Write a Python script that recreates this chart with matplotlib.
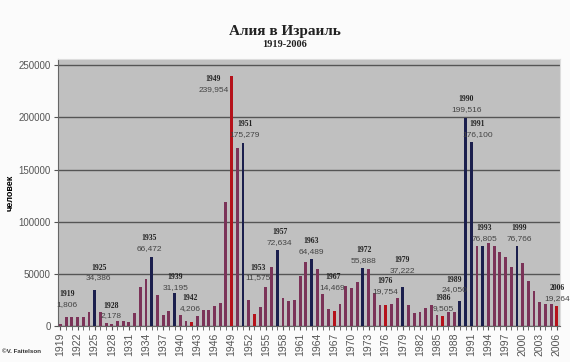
import matplotlib
matplotlib.use("Agg")
import matplotlib.pyplot as plt
import numpy as np

# aliyah to Israel per year, 1919-2006
years = list(range(1919, 2007))
immigrants = [
    1806, 8223, 8294, 8685, 8175, 13892, 34386, 13855, 3034, 2178,
    5249, 4944, 4075, 12553, 37337, 45267, 66472, 29595, 10629, 14675,
    31195, 10643, 4592, 4206, 10063, 15552, 15259, 18760, 22098, 118993,
    239954, 170563, 175279, 24610, 11575, 18491, 37528, 56330, 72634, 27290,
    23988, 24692, 47735, 61533, 64489, 55036, 31115, 15957, 14469, 20703,
    38111, 36750, 41930, 55888, 54886, 31979, 20028, 19754, 21429, 26394,
    37222, 20428, 12599, 13723, 16906, 19981, 10642, 9505, 12965, 13034,
    24050, 199516, 176100, 77057, 76805, 79844, 76361, 70919, 66221, 56730,
    76766, 60192, 43580, 33565, 23268, 20899, 21183, 19264,
]
labelled_years = [1919, 1925, 1928, 1935, 1939, 1942, 1949, 1951, 1953, 1957, 1963,
                  1967, 1972, 1976, 1979, 1986, 1989, 1990, 1991, 1993, 1999, 2006]

# styling groups
peak_years = {1925, 1935, 1939, 1951, 1957, 1963, 1972, 1979, 1989, 1990, 1991, 1993, 1999}
low_years = {1942, 1949, 1953, 1967, 1976, 1986, 2006}
# where each label sits (x in years, y in people), placed like the hand-moved Excel labels
label_pos = {
    1919: (1920.2, 30600), 1925: (1925.7, 55600), 1928: (1927.8, 19200),
    1935: (1934.6, 84300), 1939: (1939.1, 46900), 1942: (1941.8, 26800),
    1949: (1945.8, 236600), 1951: (1951.3, 193500), 1953: (1953.7, 55600),
    1957: (1957.4, 90000), 1963: (1963.0, 81400), 1967: (1966.7, 46900),
    1972: (1972.2, 72800), 1976: (1975.9, 43100), 1979: (1978.9, 63200),
    1986: (1986.1, 26800), 1989: (1988.0, 44100), 1990: (1990.1, 217500),
    1991: (1992.1, 193500), 1993: (1993.3, 93900), 1999: (1999.4, 93900),
    2006: (2006.0, 36400),
}

colors = []
for y in years:
    if y in peak_years:
        colors.append("#1b1f4d")
    elif y in low_years:
        colors.append("#b5121b")
    else:
        colors.append("#7b3358")

fig = plt.figure(figsize=(5.7, 3.62), dpi=100, facecolor="#fbfbfb")
ax = fig.add_axes([0.101, 0.0994, 0.881, 0.7376])
ax.set_facecolor("#c0c0c0")

ax.bar(years, immigrants, width=0.5, color=colors, zorder=3)

ax.set_xlim(1918.5, 2006.5)
ax.set_ylim(0, 256000)
ax.set_yticks(np.arange(0, 250001, 50000))
ax.set_yticklabels([str(v) for v in range(0, 250001, 50000)],
                   fontsize=7, color="#555555", family="Liberation Sans")
ax.yaxis.grid(True, color="#555555", lw=1, zorder=1)
ax.set_xticks(years[::3])
ax.set_xticklabels([str(y) for y in years[::3]], rotation=90,
                   fontsize=7.5, color="#555555", family="Liberation Sans")
ax.set_xticks(years, minor=True)
ax.tick_params(axis="x", which="both", length=3, color="#555555", pad=2)
ax.tick_params(axis="y", length=3, color="#555555", pad=2)

for s in ["top", "right"]:
    ax.spines[s].set_color("#dddddd")
for s in ["left", "bottom"]:
    ax.spines[s].set_color("#666666")

ax.set_ylabel("человек", fontsize=6.5, fontweight="bold", family="Liberation Sans", labelpad=3)

for yr in labelled_years:
    lx, ly = label_pos[yr]
    val = immigrants[years.index(yr)]
    ax.text(lx, ly, str(yr), ha="center", va="center", fontsize=5.5,
            fontweight="bold", color="#222222", family="Liberation Serif", zorder=4)
    ax.annotate(f"{val:,}", (lx, ly), xytext=(0, -7.2), textcoords="offset points",
                ha="center", va="center", fontsize=6, color="#444444",
                family="Liberation Sans", zorder=4)

fig.text(0.5, 0.912, "Алия в Израиль", ha="center", va="center", fontsize=11,
         fontweight="bold", family="Liberation Serif", color="#222222")
fig.text(0.5, 0.876, "1919-2006", ha="center", va="center", fontsize=7.5,
         fontweight="bold", family="Liberation Serif", color="#222222")
fig.text(0.004, 0.028, "©V. Faitelson", ha="left", va="center", fontsize=4.5,
         fontweight="bold", family="Liberation Sans", color="#333333")

fig.savefig("out.png", dpi=100, facecolor=fig.get_facecolor())
